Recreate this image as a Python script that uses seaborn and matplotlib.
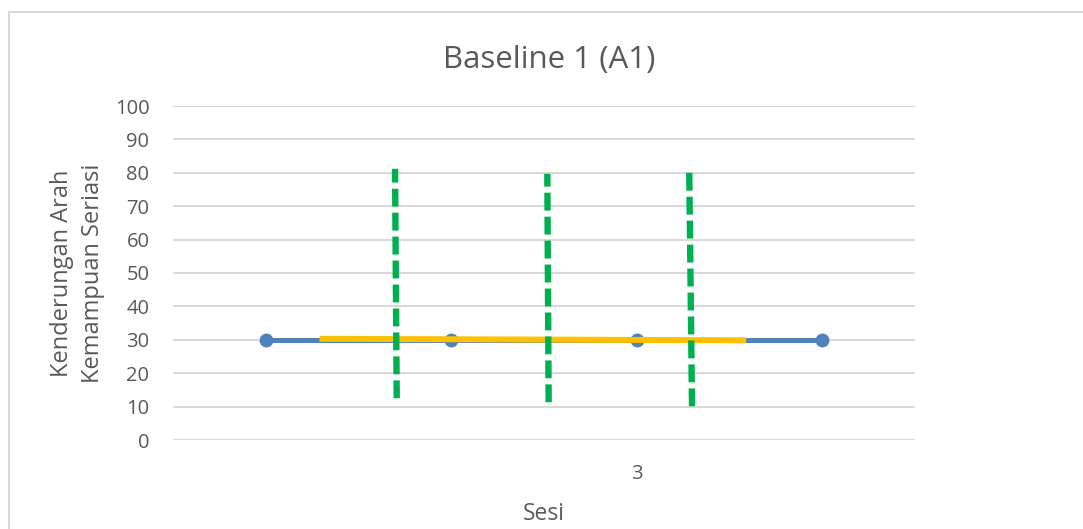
import matplotlib
matplotlib.use("Agg")
import matplotlib.pyplot as plt
import seaborn as sns
import pandas as pd
from matplotlib.patches import Rectangle

# data
sesi = [0, 1, 2, 3]
sesi_labels = ["", "", "3", ""]
skor = [30, 30, 30, 30]

trend_x = [0.29, 2.59]
trend_y = [30.3, 29.85]

# green dashed separators: (x bottom, x top, y bottom, y top)
garis_x0 = [0.706, 1.525, 2.298]
garis_x1 = [0.697, 1.518, 2.283]
garis_y0 = [12.5, 11.3, 10.1]
garis_y1 = [81.2, 79.7, 80.6]

sns.set_theme(style="white")
plt.rcParams["font.family"] = ["Open Sans", "DejaVu Sans"]
grey = "#595959"

fig = plt.figure(figsize=(10.83, 5.29), dpi=100)
ax = fig.add_axes([173 / 1083, 1 - 440 / 529, (915 - 173) / 1083, (440 - 106) / 529])

df = pd.DataFrame({"sesi": sesi, "skor": skor})
sns.lineplot(data=df, x="sesi", y="skor", ax=ax, color="#4f81bd", linewidth=3.6,
             marker="o", markersize=10, markeredgewidth=0, zorder=3)
ax.plot(trend_x, trend_y, color="#ffc000", linewidth=4.3, solid_capstyle="butt", zorder=4)
for x0, x1, y0, y1 in zip(garis_x0, garis_x1, garis_y0, garis_y1):
    ax.plot([x0, x1], [y0, y1], color="#00b050", linewidth=4.6,
            linestyle=(0, (2.8, 0.95)), dash_capstyle="butt", zorder=5)

ax.set_xlim(-0.5, 3.5)
ax.set_ylim(0, 100)
ax.set_yticks(range(0, 101, 10))
ax.set_xticks(sesi)
ax.set_xticklabels(sesi_labels)
ax.yaxis.grid(True, color="#d9d9d9", linewidth=1.5)
ax.xaxis.grid(False)
for s in ax.spines.values():
    s.set_visible(False)
ax.tick_params(axis="both", length=0, labelsize=14.5, labelcolor=grey)
ax.tick_params(axis="y", pad=17)
ax.tick_params(axis="x", pad=17)

ax.set_xlabel("Sesi", fontsize=16.5, color=grey, labelpad=13)
ax.set_ylabel("Kenderungan Arah\nKemampuan Seriasi", fontsize=17, color=grey,
              linespacing=1.4)
ax.yaxis.set_label_coords(-0.0916, 0.5)
fig.text(549 / 1083, 1 - 60 / 529, "Baseline 1 (A1)", fontsize=22.5, color=grey,
         ha="center", va="center")

fig.patches.append(Rectangle((9 / 1083, -0.1), 1.2, 1 - 12 / 529 + 0.1,
                             transform=fig.transFigure, fill=False,
                             edgecolor="#d9d9d9", linewidth=1.5))

fig.savefig("out.png", dpi=100, facecolor="white")
